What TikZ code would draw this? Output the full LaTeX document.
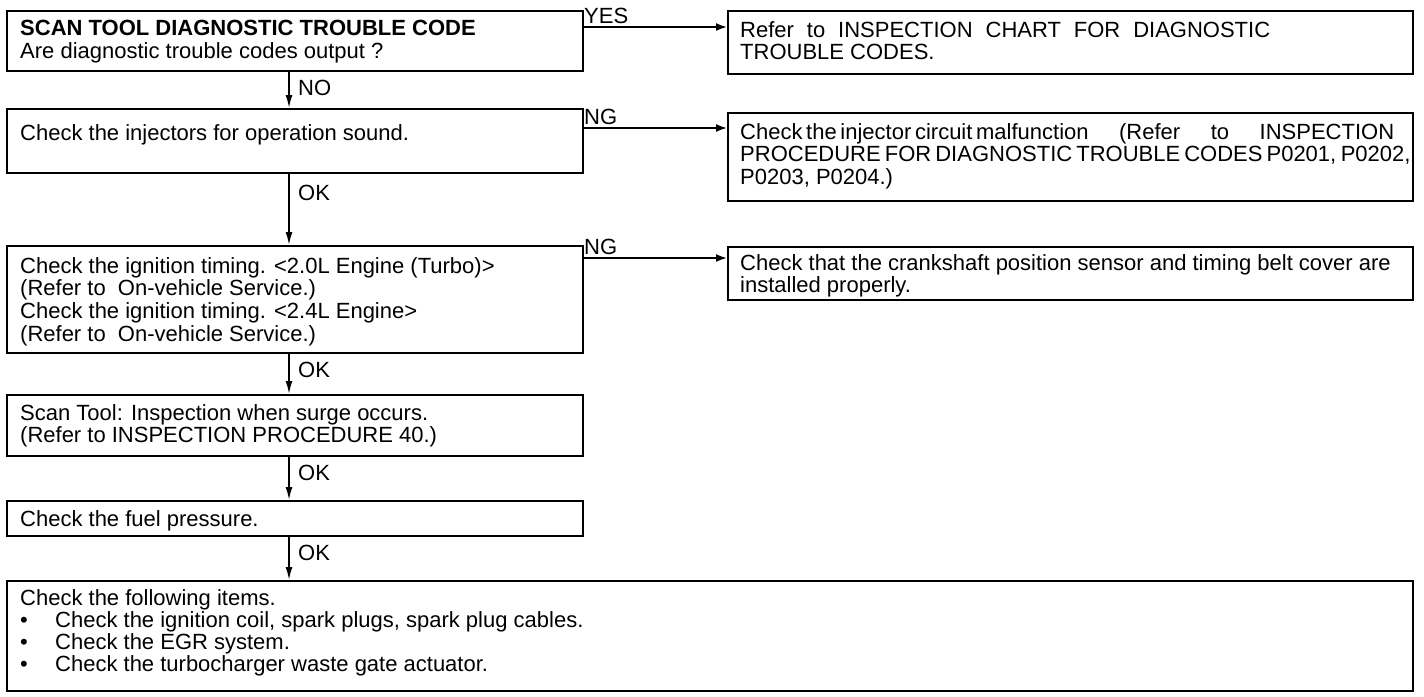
\documentclass[tikz,border=0pt]{standalone}
\usepackage{fontspec}
\setmainfont{Liberation Sans}
\usetikzlibrary{arrows.meta}
\begin{document}
\begin{tikzpicture}[x=1pt,y=-1pt,
  box/.style={draw, line width=2.4pt, anchor=north west, inner sep=0},
  txt/.style={anchor=north west, inner sep=0, align=left, font=\fontsize{22}{22.8}\selectfont},
  arr/.style={line width=1.8pt, -{Latex[length=13pt,width=7pt]}},
  harr/.style={line width=1.8pt, -{Latex[length=11pt,width=8pt]}},
  lbl/.style={inner sep=0, font=\fontsize{22}{22}\selectfont}]
\useasboundingbox (0,0) rectangle (1424,696);
% boxes
\node[box, minimum width=576pt, minimum height=60pt] (b1) at (6,10) {};
\node[box, minimum width=685pt, minimum height=63pt] (r1) at (727,10) {};
\node[box, minimum width=576pt, minimum height=64pt] (b2) at (6,108) {};
\node[box, minimum width=685pt, minimum height=88pt] (r2) at (727,112) {};
\node[box, minimum width=576pt, minimum height=107pt] (b3) at (6,245) {};
\node[box, minimum width=685pt, minimum height=53pt] (r3) at (727,246) {};
\node[box, minimum width=576pt, minimum height=61pt] (b4) at (6,394) {};
\node[box, minimum width=576pt, minimum height=35pt] (b5) at (6,500) {};
\node[box, minimum width=1406pt, minimum height=110pt] (b6) at (6,580) {};
% texts
\node[txt] (t1) at (20,20) {\textbf{SCAN TOOL DIAGNOSTIC TROUBLE CODE}\\Are diagnostic trouble codes output ?};
\node[txt] (tr1) at (740,21) {\makebox[530pt][s]{Refer to INSPECTION CHART FOR DIAGNOSTIC}\\TROUBLE CODES.};
\node[txt] (t2) at (20,124) {Check the injectors for operation sound.};
\node[txt] (tr2) at (740,123) {\makebox[654pt][s]{Check\,the\,injector\,circuit\,malfunction\hspace{1em plus 1fil}(Refer\hspace{1em plus 1fil}to\hspace{1em plus 1fil}INSPECTION}\\\makebox[656pt][s]{PROCEDURE FOR DIAGNOSTIC TROUBLE CODES P0201, P0202,}\\P0203, P0204.)};
\node[txt] (t3) at (20,257) {Check the ignition timing. <2.0L Engine (Turbo)>\\(Refer to \ On-vehicle Service.)\\Check the ignition timing. <2.4L Engine>\\(Refer to \ On-vehicle Service.)};
\node[txt] (tr3) at (740,254) {Check that the crankshaft position sensor and timing belt cover are\\installed properly.};
\node[txt] (t4) at (20,404) {Scan Tool: Inspection when surge occurs.\\(Refer to INSPECTION PROCEDURE 40.)};
\node[txt] (t5) at (20,510) {Check the fuel pressure.};
\node[txt, font=\fontsize{22}{22}\selectfont] (t6) at (20,589) {Check the following items.\\
\makebox[35pt][l]{\textbullet}Check the ignition coil, spark plugs, spark plug cables.\\
\makebox[35pt][l]{\textbullet}Check the EGR system.\\
\makebox[35pt][l]{\textbullet}Check the turbocharger waste gate actuator.};
% connectors
\coordinate (ax) at (289,0);
\coordinate (y1) at (0,27);
\coordinate (y2) at (0,128);
\coordinate (y3) at (0,258);
\draw[arr] (b1.south -| ax) -- (b2.north -| ax);
\draw[arr] (b2.south -| ax) -- (b3.north -| ax);
\draw[arr] (b3.south -| ax) -- (b4.north -| ax);
\draw[arr] (b4.south -| ax) -- (b5.north -| ax);
\draw[arr] (b5.south -| ax) -- (b6.north -| ax);
\draw[harr] (b1.east |- y1) -- (r1.west |- y1);
\draw[harr] (b2.east |- y2) -- (r2.west |- y2);
\draw[harr] (b3.east |- y3) -- (r3.west |- y3);
% labels
\node[lbl, anchor=south west] (lyes) at (584,24) {YES};
\node[lbl, anchor=south west] (lng1) at (584,125) {NG};
\node[lbl, anchor=south west] (lng2) at (584,255) {NG};
\node[lbl, anchor=west] (lno) at (298,88) {NO};
\node[lbl, anchor=west] (lok1) at (298,193) {OK};
\node[lbl, anchor=west] (lok2) at (298,370) {OK};
\node[lbl, anchor=west] (lok3) at (298,473) {OK};
\node[lbl, anchor=west] (lok4) at (298,553) {OK};
\end{tikzpicture}
\end{document}
